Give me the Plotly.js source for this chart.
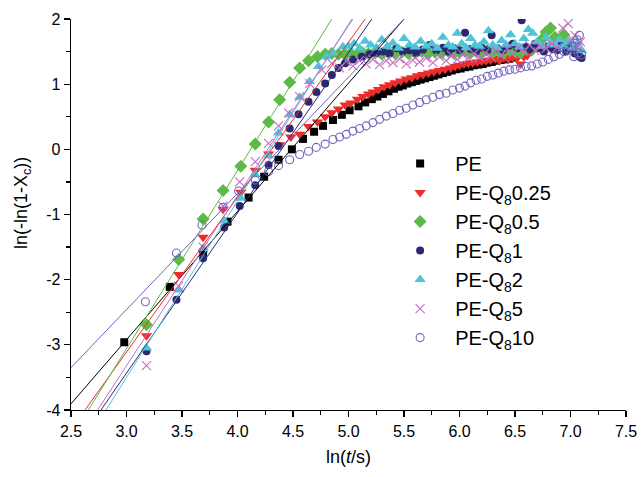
<!DOCTYPE html>
<html>
<head>
<meta charset="utf-8">
<script src="https://cdn.plot.ly/plotly-3.0.1.min.js"></script>
<style>html,body{margin:0;padding:0;background:#fff;}#chart{width:643px;height:477px;}</style>
</head>
<body>
<div id="chart"></div>
<script>
// Series names
const seriesNames = ['PE', 'PE-Q<sub>8</sub>0.25', 'PE-Q<sub>8</sub>0.5', 'PE-Q<sub>8</sub>1', 'PE-Q<sub>8</sub>2', 'PE-Q<sub>8</sub>5', 'PE-Q<sub>8</sub>10'];

// Axis tick labels
const xTickVals = [2.5, 3.0, 3.5, 4.0, 4.5, 5.0, 5.5, 6.0, 6.5, 7.0, 7.5];
const xTickText = ['2.5', '3.0', '3.5', '4.0', '4.5', '5.0', '5.5', '6.0', '6.5', '7.0', '7.5'];
const yTickVals = [-4, -3, -2, -1, 0, 1, 2];
const yTickText = ['-4', '-3', '-2', '-1', '0', '1', '2'];

// ln(t/s) and ln(-ln(1-Xc)) values
const xPE = [2.98,3.39,3.69,3.91,4.10,4.24,4.37,4.49,4.59,4.69,4.77,4.86,4.94,5.01,5.09,5.15,5.21,5.26,5.31,5.36,5.41,5.45,5.49,5.53,5.57,5.61,5.65,5.69,5.73,5.77,5.81,5.85,5.89,5.93,5.97,6.01,6.05,6.09,6.13,6.17,6.21,6.25,6.29,6.33,6.37,6.41,6.45,6.49];
const yPE = [-2.96,-2.11,-1.58,-1.11,-0.74,-0.42,-0.16,0.00,0.16,0.27,0.36,0.45,0.53,0.60,0.66,0.72,0.77,0.81,0.85,0.89,0.93,0.96,0.98,1.01,1.03,1.05,1.07,1.09,1.11,1.13,1.15,1.17,1.19,1.21,1.23,1.24,1.26,1.27,1.29,1.30,1.31,1.33,1.34,1.36,1.37,1.38,1.39,1.41];

const xQ025 = [3.18,3.47,3.69,3.87,4.03,4.16,4.28,4.38,4.48,4.56,4.64,4.72,4.79,4.85,4.91,4.97,5.02,5.08,5.13,5.18,5.22,5.27,5.32,5.37,5.42,5.47,5.52,5.57,5.62,5.67,5.72,5.77,5.82,5.87,5.92,5.96,6.00,6.04,6.08,6.12,6.16,6.20,6.24,6.28,6.32,6.36,6.40,6.44,6.48,6.52,6.55,6.58,6.61];
const yQ025 = [-2.86,-1.92,-1.35,-0.92,-0.66,-0.32,-0.07,0.07,0.19,0.23,0.35,0.42,0.50,0.56,0.62,0.68,0.71,0.77,0.81,0.85,0.88,0.92,0.96,0.99,1.02,1.05,1.08,1.10,1.13,1.15,1.17,1.19,1.21,1.23,1.25,1.27,1.29,1.31,1.32,1.33,1.34,1.35,1.36,1.37,1.39,1.36,1.40,1.38,1.41,1.40,1.31,1.42,1.44];

const xQ05 = [3.18,3.47,3.69,3.87,4.03,4.16,4.28,4.38,4.47,4.56,4.64,4.72,4.79,4.85,4.91,4.97,5.02,5.08,5.13,5.18,5.24,5.30,5.36,5.42,5.48,5.54,5.60,5.66,5.72,5.78,5.84,5.90,5.95,6.00,6.05,6.10,6.15,6.20,6.25,6.30,6.35,6.40,6.45,6.50,6.55,6.60,6.65,6.70,6.74,6.78,6.82,6.86,6.90,6.94,6.98,7.02];
const yQ05 = [-2.69,-1.69,-1.07,-0.63,-0.26,0.08,0.42,0.76,1.03,1.25,1.36,1.42,1.46,1.47,1.46,1.45,1.47,1.46,1.48,1.47,1.48,1.46,1.48,1.47,1.49,1.47,1.48,1.50,1.47,1.49,1.48,1.50,1.47,1.49,1.51,1.48,1.50,1.47,1.52,1.49,1.51,1.48,1.53,1.50,1.48,1.55,1.52,1.60,1.68,1.80,1.86,1.72,1.65,1.76,1.62,1.55];

const xQ1 = [3.18,3.45,3.69,3.88,4.02,4.16,4.28,4.37,4.47,4.55,4.64,4.71,4.79,4.85,4.91,4.97,5.04,5.12,5.19,5.25,5.31,5.37,5.43,5.49,5.55,5.61,5.67,5.73,5.79,5.85,5.90,5.95,6.00,6.05,6.10,6.15,6.20,6.25,6.29,6.34,6.39,6.44,6.48,6.52,6.56,6.60,6.64,6.68,6.72,6.76,6.80,6.84,6.88,6.92,6.96,7.00,7.04,7.08,7.10];
const yQ1 = [-3.10,-2.31,-1.67,-1.20,-0.87,-0.55,-0.24,0.05,0.32,0.54,0.73,0.88,1.01,1.14,1.25,1.32,1.38,1.42,1.46,1.48,1.50,1.47,1.55,1.50,1.52,1.48,1.53,1.60,1.52,1.56,1.50,1.55,1.52,1.79,1.54,1.50,1.56,1.52,1.75,1.55,1.52,1.58,1.62,1.55,1.98,1.57,1.53,1.62,1.55,1.50,1.58,1.54,1.52,1.60,1.50,1.55,1.47,1.42,1.40];

const xQ2 = [3.18,3.47,3.69,3.88,4.03,4.16,4.28,4.37,4.47,4.56,4.65,4.73,4.80,4.86,4.95,5.00,5.05,5.10,5.15,5.20,5.25,5.30,5.35,5.40,5.45,5.50,5.55,5.60,5.65,5.70,5.75,5.80,5.85,5.90,5.94,5.98,6.02,6.06,6.10,6.14,6.18,6.22,6.26,6.30,6.34,6.38,6.42,6.46,6.50,6.54,6.58,6.62,6.66,6.70,6.74,6.78,6.82,6.86,6.90,6.94,6.98,7.02,7.06,7.10];
const yQ2 = [-3.05,-2.16,-1.52,-1.10,-0.75,-0.39,-0.10,0.25,0.53,0.80,1.04,1.27,1.42,1.48,1.575,1.58,1.62,1.55,1.66,1.60,1.56,1.68,1.58,1.63,1.55,1.70,1.60,1.57,1.66,1.58,1.62,1.55,1.72,1.60,1.57,1.78,1.62,1.56,1.70,1.60,1.58,1.65,1.82,1.60,1.55,1.67,1.60,1.76,1.62,1.57,1.70,1.84,1.78,1.65,1.58,1.72,1.62,1.60,1.68,1.58,1.65,1.55,1.62,1.52];

const xQ5 = [3.18,3.47,3.69,3.87,4.02,4.16,4.28,4.37,4.46,4.56,4.65,4.76,4.85,4.92,4.98,5.04,5.10,5.16,5.22,5.28,5.34,5.40,5.46,5.52,5.58,5.64,5.70,5.76,5.82,5.88,5.93,5.98,6.03,6.08,6.13,6.18,6.23,6.28,6.33,6.38,6.43,6.48,6.53,6.58,6.63,6.68,6.73,6.78,6.83,6.88,6.93,6.98,7.01,7.04,7.07,7.09];
const yQ5 = [-3.32,-2.10,-1.50,-0.87,-0.50,-0.19,0.09,0.36,0.56,0.81,1.01,1.22,1.32,1.25,1.35,1.28,1.36,1.31,1.38,1.30,1.36,1.33,1.39,1.31,1.37,1.34,1.40,1.33,1.42,1.36,1.44,1.38,1.45,1.40,1.47,1.41,1.48,1.43,1.52,1.45,1.55,1.47,1.56,1.50,1.60,1.52,1.58,1.55,1.62,1.56,1.86,1.93,1.70,1.75,1.58,1.65];

const xQ10 = [3.17,3.45,3.68,3.87,4.01,4.16,4.28,4.37,4.47,4.56,4.64,4.71,4.79,4.86,4.92,4.98,5.04,5.10,5.16,5.22,5.28,5.34,5.40,5.46,5.52,5.58,5.64,5.70,5.76,5.82,5.88,5.94,6.00,6.05,6.10,6.15,6.20,6.25,6.30,6.35,6.40,6.45,6.50,6.55,6.60,6.65,6.70,6.75,6.80,6.85,6.90,6.94,6.98,7.01,7.04,7.06,7.08,7.03,7.07,7.10];
const yQ10 = [-2.34,-1.59,-1.16,-0.89,-0.64,-0.47,-0.34,-0.25,-0.16,-0.08,-0.03,0.03,0.08,0.15,0.19,0.23,0.28,0.32,0.36,0.41,0.46,0.51,0.55,0.60,0.63,0.68,0.72,0.76,0.80,0.84,0.86,0.91,0.94,0.97,1.02,1.06,1.08,1.12,1.14,1.17,1.20,1.22,1.23,1.25,1.27,1.28,1.31,1.34,1.38,1.42,1.46,1.50,1.54,1.58,1.63,1.68,1.75,1.42,1.48,1.45];

// Linear (Avrami) fit parameters: y = intercept + slope * x
const fitSlope = [1.968, 2.377, 2.735, 2.459, 2.709, 2.61, 1.783];
const fitIntercept = [-8.825, -10.242, -11.264, -10.811, -11.626, -11.151, -7.808];
const fitXRange = [2.4, 6.0];

const xs = [xPE, xQ025, xQ05, xQ1, xQ2, xQ5, xQ10];
const ys = [yPE, yQ025, yQ05, yQ1, yQ2, yQ5, yQ10];

const colors = ['#000000', '#ee2b2b', '#5cbb45', '#2b2872', '#4ec4d8', '#c46ec6', '#7563c0'];
const symbols = ['square', 'triangle-down', 'diamond', 'circle', 'triangle-up', 'x-thin', 'circle-open'];
const sizes = [8, 10, 10, 8, 10, 9, 8];

const traces = [];
for (let i = 0; i < xs.length; i++) {
  const m = {color: colors[i], symbol: symbols[i], size: sizes[i]};
  if (symbols[i] === 'x-thin') m.line = {color: colors[i], width: 1.1};
  else if (symbols[i] === 'circle-open') m.line = {color: colors[i], width: 1.1};
  else m.line = {width: 0};
  traces.push({
    type: 'scatter', mode: 'markers', x: xs[i], y: ys[i], name: seriesNames[i],
    marker: m, legendgroup: 'g' + i, cliponaxis: true
  });
}
for (let i = 0; i < fitSlope.length; i++) {
  traces.push({
    type: 'scatter', mode: 'lines', x: fitXRange,
    y: fitXRange.map(v => fitIntercept[i] + fitSlope[i] * v),
    line: {color: colors[i], width: 1}, showlegend: false, hoverinfo: 'skip'
  });
}

const fontFam = '"Liberation Sans", Arial, sans-serif';
const layout = {
  width: 643, height: 477,
  margin: {l: 71, r: 17, t: 19, b: 67},
  paper_bgcolor: '#fff', plot_bgcolor: '#fff',
  font: {family: fontFam, color: '#000', size: 16},
  showlegend: true,
  legend: {x: 0.566, y: 0.68, xanchor: 'left', yanchor: 'top', font: {size: 20, family: fontFam},
           bgcolor: 'rgba(0,0,0,0)', tracegroupgap: 0, itemwidth: 60},
  xaxis: {
    range: [2.5, 7.5], tickmode: 'array', tickvals: xTickVals, ticktext: xTickText,
    ticks: 'outside', ticklen: 6, tickwidth: 1.2, tickcolor: '#000',
    minor: {dtick: 0.25, tick0: 2.5, ticks: 'outside', ticklen: 3.5, tickwidth: 1.2, tickcolor: '#000'},
    showline: true, linecolor: '#000', linewidth: 1.3, showgrid: false, zeroline: false,
    tickfont: {size: 16}, title: {text: 'ln(<i>t</i>/s)', font: {size: 18}, standoff: 12}
  },
  yaxis: {
    range: [-4, 2], tickmode: 'array', tickvals: yTickVals, ticktext: yTickText,
    ticks: 'outside', ticklen: 6, tickwidth: 1.2, tickcolor: '#000',
    minor: {dtick: 0.5, tick0: 0, ticks: 'outside', ticklen: 3.5, tickwidth: 1.2, tickcolor: '#000'},
    showline: true, linecolor: '#000', linewidth: 1.3, showgrid: false, zeroline: false,
    tickfont: {size: 16}
  },
  annotations: [{
    text: 'ln(-ln(1-X<sub>c</sub>))', textangle: -90, showarrow: false,
    xref: 'paper', yref: 'paper', x: -0.086, y: 0.53, xanchor: 'center', yanchor: 'middle',
    font: {size: 18, family: fontFam, color: '#000'}
  }]
};

Plotly.newPlot('chart', traces, layout, {staticPlot: true, displayModeBar: false});
</script>
</body>
</html>
